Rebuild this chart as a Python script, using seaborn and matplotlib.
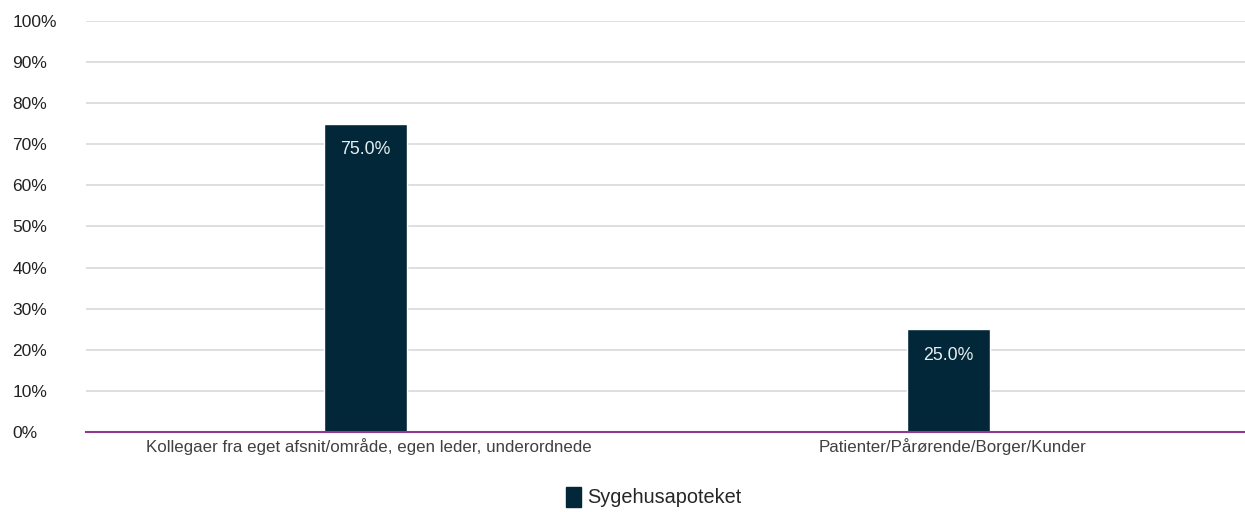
import matplotlib
matplotlib.use("Agg")
import matplotlib.pyplot as plt
import matplotlib.transforms as mtransforms
import seaborn as sns
import pandas as pd
from matplotlib.patches import Patch

categories = ["Kollegaer fra eget afsnit/område, egen leder, underordnede",
              "Patienter/Pårørende/Borger/Kunder"]
values = [75.0, 25.0]
series_name = "Sygehusapoteket"
yticks = [0, 10, 20, 30, 40, 50, 60, 70, 80, 90, 100]

df = pd.DataFrame({"cat": categories, "val": values, "series": series_name})

sns.set_style("white")
plt.rcParams['font.family'] = ['Liberation Sans', 'DejaVu Sans']

fig = plt.figure(figsize=(12.45, 5.12), dpi=100)
ax = fig.add_axes([86/1245, 1 - 432/512, (1245-86)/1245, (432-21)/512])

bar_color = "#012738"
sns.barplot(data=df, x="cat", y="val", color=bar_color, width=0.142, ax=ax,
            saturation=1)

ax.set_xlim(-0.479, 1.509)
ax.set_ylim(0, 100)
ax.set_yticks(yticks)
ax.set_yticklabels([f"{t}%" for t in yticks], fontsize=12.5, color="#222222")
ax.tick_params(axis="y", length=0, pad=53)
ax.tick_params(axis="x", length=0, pad=4, labelsize=12.2, labelcolor="#404040")
for lbl in ax.get_yticklabels():
    lbl.set_horizontalalignment("left")
shift = mtransforms.ScaledTranslation(4/100, 0, fig.dpi_scale_trans)
for lbl in ax.get_xticklabels():
    lbl.set_transform(lbl.get_transform() + shift)
ax.yaxis.grid(True, color="#d9d9d9", linewidth=1.2)
ax.set_axisbelow(True)
for s in ["top", "right", "left"]:
    ax.spines[s].set_visible(False)
ax.spines["bottom"].set_color("#8e3a91")
ax.spines["bottom"].set_linewidth(1.5)
ax.set_xlabel("")
ax.set_ylabel("")

for cont in ax.containers:
    ax.bar_label(cont, labels=[f"{v:.1f}%" for v in values], label_type="edge",
                 padding=-25, color="#e8eef2", fontsize=12.8)

handles = [Patch(facecolor=bar_color, edgecolor=bar_color)]
fig.legend(handles, [series_name], loc="center", bbox_to_anchor=(654/1245, 1 - 497/512),
           frameon=False, fontsize=14.3, handlelength=0.75, handleheight=1.2,
           handletextpad=0.3)

fig.savefig("out.png", dpi=100)
